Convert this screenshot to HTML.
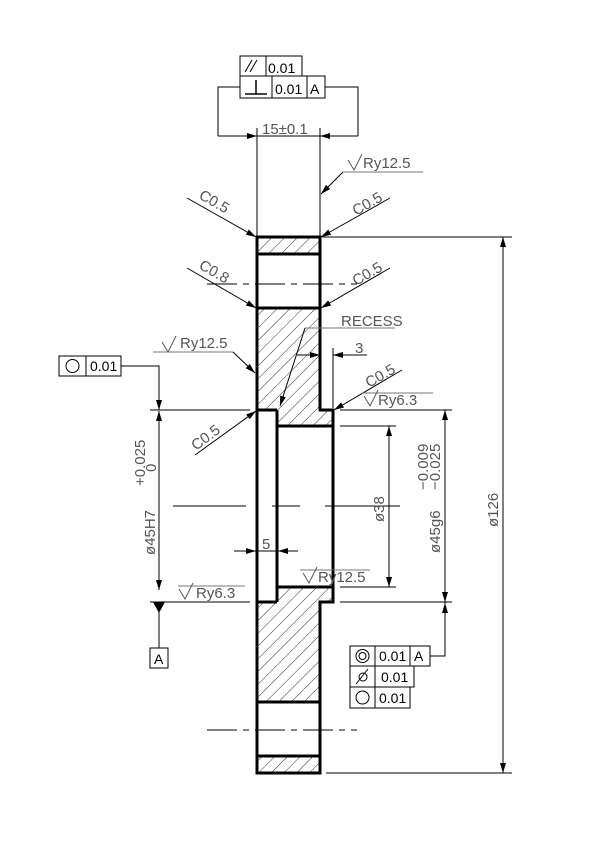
<!DOCTYPE html>
<html><head><meta charset="utf-8"><style>
html,body{margin:0;padding:0;background:#fff}
svg{display:block}
text{font-family:"Liberation Sans",sans-serif;fill:#000}
.t{font-size:15px;fill:#555}
</style></head><body>
<svg width="612" height="844" viewBox="0 0 612 844" xmlns="http://www.w3.org/2000/svg">
<defs>
<pattern id="h" patternUnits="userSpaceOnUse" width="9" height="9" patternTransform="rotate(45)">
<line x1="0" y1="0" x2="0" y2="9" stroke="#000" stroke-width="0.8"/>
</pattern>
<marker id="a" viewBox="0 0 10 6" refX="10" refY="3" markerWidth="10" markerHeight="6" orient="auto" markerUnits="userSpaceOnUse"><path d="M0,0 L10,3 L0,6z" fill="#000"/></marker>
</defs>
<rect width="612" height="844" fill="#fff"/>
<g fill="url(#h)" stroke="none">
<rect x="257" y="238" width="63" height="16"/>
<polygon points="257,308 320,308 320,410 333,410 333,426 277,426 277,410 257,410"/>
<polygon points="257,602 277,602 277,587 333,587 333,602 320,602 320,702 257,702"/>
<rect x="257" y="756" width="63" height="17"/>
</g>
<g fill="none" stroke="#000" stroke-width="3">
<path d="M257,237 L320,237 L320,410 L333,410 L333,602 L320,602 L320,773 L257,773 Z"/>
<line x1="257" y1="254" x2="320" y2="254"/>
<line x1="257" y1="308" x2="320" y2="308"/>
<line x1="257" y1="702" x2="320" y2="702"/>
<line x1="257" y1="756" x2="320" y2="756"/>
<line x1="277" y1="410" x2="277" y2="602"/>
<line x1="257" y1="410" x2="277" y2="410"/>
<line x1="257" y1="602" x2="277" y2="602"/>
<line x1="277" y1="426" x2="333" y2="426"/>
<line x1="277" y1="587" x2="333" y2="587"/>
</g>
<g stroke="#000" stroke-width="1" fill="none">
<line x1="207" y1="284" x2="357" y2="284" stroke-dasharray="30,6,6,6"/>
<line x1="173" y1="506" x2="246" y2="506"/><line x1="272" y1="506" x2="300" y2="506"/><line x1="325" y1="506" x2="400" y2="506"/>
<line x1="207" y1="730" x2="357" y2="730" stroke-dasharray="30,6,6,6"/>
<line x1="257" y1="128" x2="257" y2="236"/><line x1="320" y1="128" x2="320" y2="236"/>
<line x1="218" y1="136" x2="257" y2="136" marker-end="url(#a)"/>
<line x1="358" y1="136" x2="320" y2="136" marker-end="url(#a)"/>
<line x1="257" y1="136" x2="320" y2="136"/>
<path d="M240,87 H218 V136"/><path d="M325,87 H358 V136"/>
<rect x="240" y="56" width="62" height="20"/><line x1="266" y1="56" x2="266" y2="76"/>
<rect x="240" y="76" width="85" height="22"/><line x1="272" y1="76" x2="272" y2="98"/><line x1="307" y1="76" x2="307" y2="98"/>
<line x1="245" y1="72" x2="252" y2="60"/><line x1="250" y1="72" x2="257" y2="60"/>
<line x1="256" y1="80" x2="256" y2="94" stroke-width="1.5"/><line x1="245" y1="94" x2="267" y2="94" stroke-width="1.5"/>
<line x1="343" y1="172" x2="321" y2="194" marker-end="url(#a)"/>
<line x1="343" y1="172" x2="423" y2="172" stroke="#777"/>
<path d="M348,160 L354,170 L362,154" stroke="#555"/>
<line x1="187" y1="198" x2="256" y2="237" marker-end="url(#a)"/>
<line x1="390" y1="198" x2="321" y2="237" marker-end="url(#a)"/>
<line x1="187" y1="268" x2="256" y2="308" marker-end="url(#a)"/>
<line x1="390" y1="268" x2="321" y2="308" marker-end="url(#a)"/>
<line x1="322" y1="237" x2="512" y2="237"/><line x1="326" y1="773" x2="512" y2="773"/>
<line x1="503" y1="506" x2="503" y2="237" marker-end="url(#a)"/>
<line x1="503" y1="506" x2="503" y2="773" marker-end="url(#a)"/>
<line x1="305" y1="328" x2="395" y2="328" stroke="#777"/>
<line x1="305" y1="328" x2="280" y2="406" marker-end="url(#a)"/>
<line x1="333" y1="348" x2="333" y2="408"/>
<line x1="297" y1="355" x2="320" y2="355" marker-end="url(#a)"/>
<line x1="367" y1="355" x2="333" y2="355" marker-end="url(#a)"/>
<line x1="402" y1="370" x2="334" y2="410" marker-end="url(#a)"/>
<line x1="362" y1="393" x2="433" y2="393" stroke="#777"/>
<path d="M364,396 L370,406 L378,390" stroke="#555"/>
<line x1="153" y1="352" x2="233" y2="352" stroke="#777"/>
<line x1="233" y1="352" x2="255" y2="373" marker-end="url(#a)"/>
<path d="M162,342 L168,352 L176,336" stroke="#555"/>
<rect x="59" y="356" width="62" height="20"/><line x1="86" y1="356" x2="86" y2="376"/>
<circle cx="72.5" cy="366" r="6.5"/>
<path d="M121,366 H159 V410"/>
<line x1="159" y1="395" x2="159" y2="410" marker-end="url(#a)"/>
<line x1="150" y1="410" x2="250" y2="410"/><line x1="150" y1="602" x2="250" y2="602"/>
<line x1="159" y1="506" x2="159" y2="411" marker-end="url(#a)"/>
<line x1="159" y1="506" x2="159" y2="590" marker-end="url(#a)"/>
<line x1="159" y1="602" x2="159" y2="648"/>
<rect x="150" y="648" width="18" height="20"/>
<line x1="195" y1="455" x2="256" y2="411" marker-end="url(#a)"/>
<line x1="340" y1="426" x2="396" y2="426"/><line x1="340" y1="587" x2="396" y2="587"/>
<line x1="389" y1="506" x2="389" y2="426" marker-end="url(#a)"/>
<line x1="389" y1="506" x2="389" y2="587" marker-end="url(#a)"/>
<line x1="340" y1="410" x2="452" y2="410"/><line x1="340" y1="602" x2="452" y2="602"/>
<line x1="445" y1="506" x2="445" y2="410" marker-end="url(#a)"/>
<line x1="445" y1="506" x2="445" y2="602" marker-end="url(#a)"/>
<line x1="234" y1="551" x2="256" y2="551" marker-end="url(#a)"/>
<line x1="298" y1="551" x2="278" y2="551" marker-end="url(#a)"/>
<line x1="256" y1="551" x2="278" y2="551"/>
<line x1="300" y1="570" x2="370" y2="570" stroke="#777"/>
<path d="M303,573 L309,583 L317,567" stroke="#555"/>
<line x1="178" y1="586" x2="245" y2="586" stroke="#777"/>
<path d="M179,589 L185,599 L193,583" stroke="#555"/>
<rect x="350" y="646" width="80" height="20"/><line x1="375" y1="646" x2="375" y2="666"/><line x1="410" y1="646" x2="410" y2="666"/>
<rect x="350" y="666" width="64" height="21"/><line x1="375" y1="666" x2="375" y2="687"/>
<rect x="350" y="687" width="60" height="21"/><line x1="375" y1="687" x2="375" y2="708"/>
<circle cx="362.5" cy="656" r="6.5"/><circle cx="362.5" cy="656" r="3.5"/>
<circle cx="362.5" cy="697.5" r="6.5"/>
<line x1="356" y1="684" x2="368" y2="669"/><circle cx="363" cy="677" r="4"/>
<path d="M430,656 H445 V602"/>
<line x1="445" y1="620" x2="445" y2="603" marker-end="url(#a)"/>
</g>
<polygon points="153,602 165,602 159,613" fill="#000"/>
<text x="268" y="73" font-size="14">0.01</text>
<text x="275" y="94" font-size="14">0.01</text>
<text x="310" y="94" font-size="14">A</text>
<text x="262" y="134" class="t">15±0.1</text>
<text x="363" y="168" class="t" font-size="16">Ry12.5</text>
<text class="t" font-size="16" transform="translate(198,198) rotate(30)">C0.5</text>
<text class="t" font-size="16" transform="translate(356,216) rotate(-30)">C0.5</text>
<text class="t" font-size="16" transform="translate(198,268) rotate(30)">C0.8</text>
<text class="t" font-size="16" transform="translate(356,286) rotate(-30)">C0.5</text>
<text x="341" y="326" class="t" font-size="15">RECESS</text>
<text x="355" y="353" class="t" font-size="16">3</text>
<text class="t" font-size="16" transform="translate(369,388) rotate(-30)">C0.5</text>
<text x="378" y="405" class="t" font-size="16">Ry6.3</text>
<text x="180" y="348" class="t" font-size="16">Ry12.5</text>
<text x="90" y="371" font-size="14">0.01</text>
<text class="t" font-size="16" transform="translate(196,451) rotate(-37)">C0.5</text>
<text class="t" font-size="16" transform="translate(155,555) rotate(-90)">ø45H7</text>
<text class="t" font-size="8" transform="translate(145,486) rotate(-90)">+0.025</text>
<text class="t" font-size="8" transform="translate(156,472) rotate(-90)">0</text>
<text x="154" y="664" font-size="14">A</text>
<text class="t" font-size="16" transform="translate(384,522) rotate(-90)">ø38</text>
<text class="t" font-size="16" transform="translate(440,553) rotate(-90)">ø45g6</text>
<text class="t" font-size="8" transform="translate(428,490) rotate(-90)">−0.009</text>
<text class="t" font-size="8" transform="translate(440,490) rotate(-90)">−0.025</text>
<text class="t" font-size="16" transform="translate(498,527) rotate(-90)">ø126</text>
<text x="262" y="549" class="t" font-size="16">5</text>
<text x="318" y="582" class="t" font-size="16">Ry12.5</text>
<text x="196" y="598" class="t" font-size="16">Ry6.3</text>
<text x="379" y="661" font-size="14">0.01</text>
<text x="414" y="661" font-size="14">A</text>
<text x="381" y="682" font-size="14">0.01</text>
<text x="379" y="703" font-size="14">0.01</text>
</svg>
</body></html>
